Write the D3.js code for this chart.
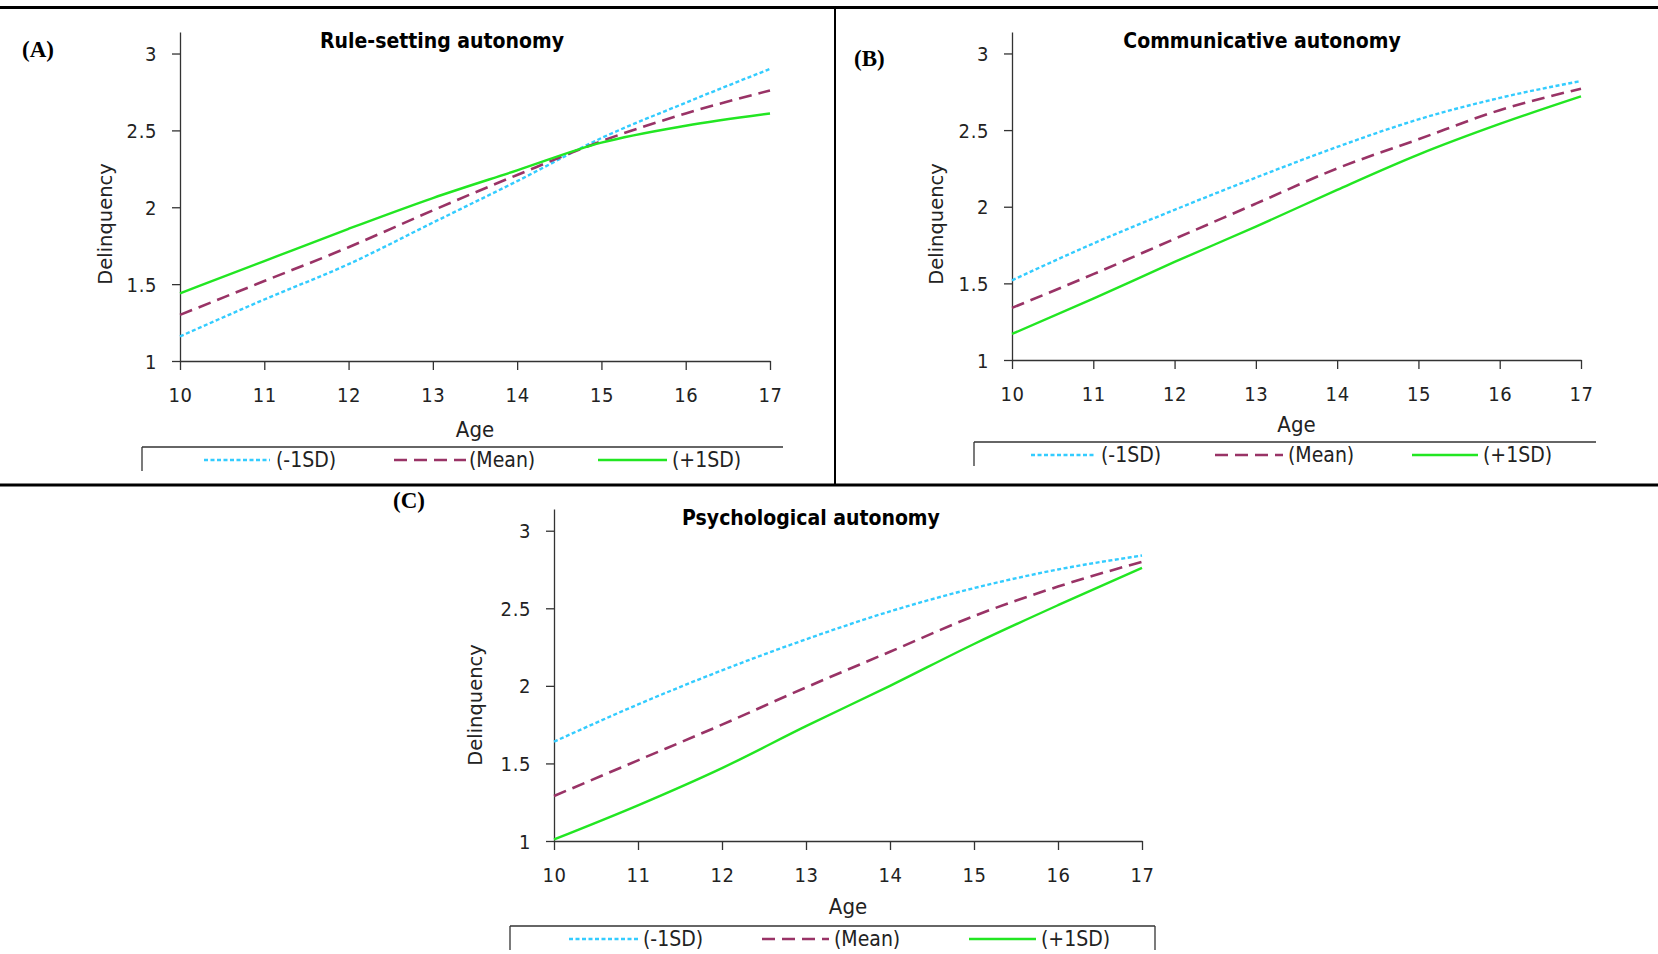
<!DOCTYPE html>
<html>
<head>
<meta charset="utf-8">
<script src="https://cdn.jsdelivr.net/npm/d3@7"></script>
<style>
  body { margin: 0; background: #fff; }
  svg { display: block; }
  .tick text { font-family: "Liberation Sans Narrow", "DejaVu Sans Condensed", "Open Sans", sans-serif; font-size: 20px; letter-spacing: 0.6px; fill: #222; }
  .title { font-family: "Liberation Sans Narrow", "DejaVu Sans Condensed", sans-serif; font-weight: bold; font-size: 21px; }
  .tag { font-family: "Liberation Serif", "DejaVu Serif", serif; font-weight: bold; font-size: 23px; }
  .ylab { font-family: "DejaVu Sans", "Noto Sans", sans-serif; font-size: 19.5px; fill: #222; }
  .xlab { font-family: "Liberation Sans Narrow", "DejaVu Sans Condensed", sans-serif; font-size: 22px; fill: #222; }
  .legtext { font-family: "Liberation Sans Narrow", "DejaVu Sans Condensed", sans-serif; font-size: 21px; fill: #222; }
</style>
</head>
<body>
<svg id="chart"></svg>
<script>
// values, one per age 10..17
const ages = [10, 11, 12, 13, 14, 15, 16, 17];
const yTicks = [1, 1.5, 2, 2.5, 3];
const seriesNames = ["(-1SD)", "(Mean)", "(+1SD)"];

const ruleLow  = [1.16, 1.40, 1.63, 1.90, 2.17, 2.45, 2.68, 2.90];
const ruleMean = [1.30, 1.52, 1.74, 1.98, 2.21, 2.43, 2.61, 2.76];
const ruleHigh = [1.44, 1.65, 1.86, 2.06, 2.24, 2.42, 2.53, 2.61];

const commLow  = [1.52, 1.76, 1.98, 2.19, 2.39, 2.57, 2.71, 2.82];
const commMean = [1.34, 1.56, 1.79, 2.02, 2.25, 2.44, 2.63, 2.77];
const commHigh = [1.17, 1.40, 1.64, 1.87, 2.11, 2.34, 2.54, 2.72];

const psyLow  = [1.64, 1.88, 2.10, 2.30, 2.48, 2.63, 2.75, 2.84];
const psyMean = [1.29, 1.52, 1.75, 1.99, 2.22, 2.45, 2.64, 2.80];
const psyHigh = [1.01, 1.23, 1.47, 1.74, 2.00, 2.27, 2.52, 2.76];

const W = 1658, H = 954;
const svg = d3.select("#chart").attr("width", W).attr("height", H);

const styles = [
    {color: "#33ccff", dash: "4,2.5", width: 2.4},
    {color: "#993366", dash: "13,7", width: 2.6},
    {color: "#22e622", dash: null, width: 2.4}
];

// layout of the three panels
const panels = [
    {tag: "(A)", title: "Rule-setting autonomy", data: [ruleLow, ruleMean, ruleHigh],
     x0: 180, x1: 770, yTop: 32, yBot: 361,
     tagX: 22, tagY: 57, titleX: 442, titleY: 48, ylabX: 112, ylabY: 224, xlabY: 437,
     leg: {top: 447, left: 142, right: 783, rightEdge: false, textY: 467,
           items: [[204, 270, 276], [394, 466, 469], [598, 667, 672]]}},
    {tag: "(B)", title: "Communicative autonomy", data: [commLow, commMean, commHigh],
     x0: 1012, x1: 1581, yTop: 32, yBot: 360,
     tagX: 854, tagY: 66, titleX: 1262, titleY: 48, ylabX: 943, ylabY: 224, xlabY: 432,
     leg: {top: 442, left: 974, right: 1596, rightEdge: false, textY: 462,
           items: [[1031, 1095, 1101], [1215, 1283, 1288], [1412, 1478, 1483]]}},
    {tag: "(C)", title: "Psychological autonomy", data: [psyLow, psyMean, psyHigh],
     x0: 554, x1: 1142, yTop: 509, yBot: 841,
     tagX: 393, tagY: 508, titleX: 811, titleY: 525, ylabX: 482, ylabY: 705, xlabY: 914,
     leg: {top: 926, left: 510, right: 1155, rightEdge: true, textY: 946,
           items: [[569, 638, 643], [762, 829, 834], [969, 1036, 1041]]}}
];

// frame lines
svg.append("line").attr("x1", 0).attr("x2", W).attr("y1", 7.5).attr("y2", 7.5)
    .attr("stroke", "#000").attr("stroke-width", 3);
svg.append("line").attr("x1", 0).attr("x2", W).attr("y1", 485).attr("y2", 485)
    .attr("stroke", "#000").attr("stroke-width", 3);
svg.append("line").attr("x1", 835).attr("x2", 835).attr("y1", 7).attr("y2", 485)
    .attr("stroke", "#000").attr("stroke-width", 2);

panels.forEach(p => {
    const g = svg.append("g");
    const x = d3.scaleLinear().domain([10, 17]).range([p.x0, p.x1]);
    const y = d3.scaleLinear().domain([1, 3.14]).range([p.yBot, p.yTop]);

    const yAxis = g.append("g")
        .attr("transform", `translate(${p.x0},0)`)
        .call(d3.axisLeft(y).tickValues(yTicks).tickSize(8).tickSizeOuter(0).tickPadding(15)
            .tickFormat(d3.format("")));
    const xAxis = g.append("g")
        .attr("transform", `translate(0,${p.yBot})`)
        .call(d3.axisBottom(x).tickValues(ages).tickSize(9).tickSizeOuter(0).tickPadding(18)
            .tickFormat(d3.format("d")));
    [yAxis, xAxis].forEach(a => {
        a.select(".domain").attr("stroke", "#333").attr("stroke-width", 1.3);
        a.selectAll(".tick line").attr("stroke", "#333").attr("stroke-width", 1.3);
    });
    yAxis.selectAll(".tick text").attr("dy", "0.35em");

    const line = d3.line()
        .x((d, i) => x(ages[i]))
        .y(d => y(d))
        .curve(d3.curveMonotoneX);

    p.data.forEach((vals, k) => {
        g.append("path")
            .datum(vals)
            .attr("d", line)
            .attr("fill", "none")
            .attr("stroke", styles[k].color)
            .attr("stroke-width", styles[k].width)
            .attr("stroke-dasharray", styles[k].dash);
    });

    g.append("text").attr("class", "tag").attr("x", p.tagX).attr("y", p.tagY).text(p.tag);
    g.append("text").attr("class", "title").attr("x", p.titleX).attr("y", p.titleY)
        .attr("text-anchor", "middle").text(p.title);
    g.append("text").attr("class", "ylab")
        .attr("transform", `translate(${p.ylabX},${p.ylabY}) rotate(-90)`)
        .attr("text-anchor", "middle").text("Delinquency");
    g.append("text").attr("class", "xlab").attr("x", (p.x0 + p.x1) / 2).attr("y", p.xlabY)
        .attr("text-anchor", "middle").text("Age");

    // legend box (cut off by the panel's bottom edge)
    const L = p.leg;
    g.append("line").attr("x1", L.left).attr("x2", L.right).attr("y1", L.top).attr("y2", L.top)
        .attr("stroke", "#333").attr("stroke-width", 1.3);
    g.append("line").attr("x1", L.left).attr("x2", L.left).attr("y1", L.top).attr("y2", L.top + 24)
        .attr("stroke", "#333").attr("stroke-width", 1.3);
    if (L.rightEdge) {
        g.append("line").attr("x1", L.right).attr("x2", L.right).attr("y1", L.top).attr("y2", L.top + 24)
            .attr("stroke", "#333").attr("stroke-width", 1.3);
    }
    L.items.forEach((it, k) => {
        g.append("line").attr("x1", it[0]).attr("x2", it[1]).attr("y1", L.textY - 7).attr("y2", L.textY - 7)
            .attr("stroke", styles[k].color).attr("stroke-width", styles[k].width)
            .attr("stroke-dasharray", styles[k].dash);
        g.append("text").attr("class", "legtext").attr("x", it[2]).attr("y", L.textY).text(seriesNames[k]);
    });
});
</script>
</body>
</html>
